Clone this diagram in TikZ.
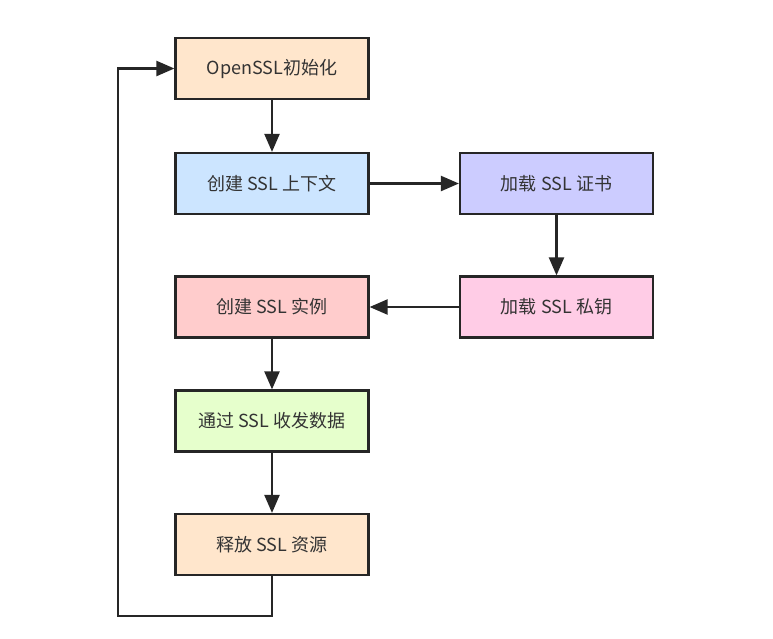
\documentclass[tikz,border=0pt]{standalone}
\usepackage{fontspec}
\setmainfont{Noto Sans CJK SC}
\usetikzlibrary{arrows.meta}
\definecolor{cpeach}{HTML}{FFE6CC}
\definecolor{cblue}{HTML}{CCE5FF}
\definecolor{cpurple}{HTML}{CCCCFF}
\definecolor{cpink}{HTML}{FFCCE6}
\definecolor{cred}{HTML}{FFCCCC}
\definecolor{cgreen}{HTML}{E6FFCC}
\definecolor{cline}{HTML}{262626}
\definecolor{ctext}{HTML}{333333}
\begin{document}
\begin{tikzpicture}[x=1pt,y=-1pt,
  box/.style={draw=cline,line width=2.2pt,minimum width=193pt,minimum height=61pt,inner sep=0pt,
    text=ctext,font=\fontsize{18}{21}\selectfont},
  conn/.style={draw=cline,line width=2.2pt,-{Triangle[length=18pt,width=15pt]}}]
\useasboundingbox[fill=white] (0,0) rectangle (773,638);
\node[box,fill=cpeach]  (init) at (272,68.5) {OpenSSL初始化};
\node[box,fill=cblue]   (ctx)  at (272,183.5) {创建 SSL 上下文};
\node[box,fill=cpurple] (cert) at (556.5,183.5) {加载 SSL 证书};
\node[box,fill=cpink]   (key)  at (556.5,307) {加载 SSL 私钥};
\node[box,fill=cred]    (inst) at (272,307) {创建 SSL 实例};
\node[box,fill=cgreen]  (data) at (272,421) {通过 SSL 收发数据};
\node[box,fill=cpeach]  (free) at (272,544.5) {释放 SSL 资源};
\coordinate (c1) at (272,616);
\coordinate (c2) at (118,616);
\coordinate (c3) at (118,68.5);
\draw[conn] (init) -- (ctx);
\draw[conn] (ctx) -- (cert);
\draw[conn] (cert) -- (key);
\draw[conn] (key) -- (inst);
\draw[conn] (inst) -- (data);
\draw[conn] (data) -- (free);
\draw[conn,line join=miter] (free.south) -- (c1) -- (c2) -- (c3) -- (init.west);
\end{tikzpicture}
\end{document}
